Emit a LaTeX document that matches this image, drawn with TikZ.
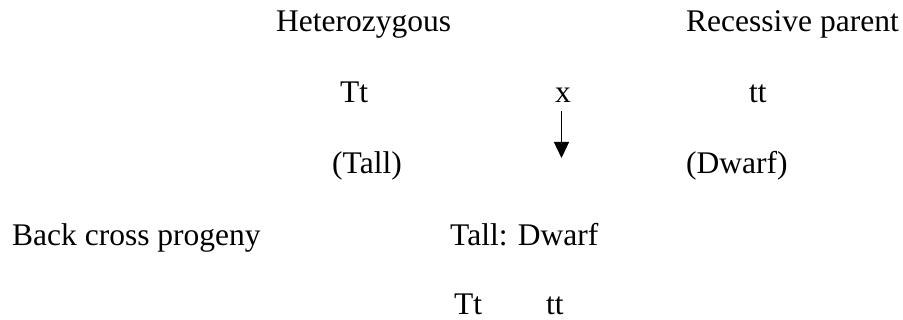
\documentclass[tikz,border=0pt]{standalone}
\usepackage{fontspec}
\setmainfont{Liberation Serif}
\usetikzlibrary{arrows.meta}
\begin{document}
\begin{tikzpicture}[x=1pt,y=-1pt,
  lbl/.style={anchor=base west,inner sep=0pt,font=\fontsize{31.5}{36}\selectfont},
  arr/.style={line width=1.3pt,-{Triangle[length=16pt,width=15pt]}}]
\useasboundingbox (0,0) rectangle (903,320);
\node[lbl] (het) at (276,32) {Heterozygous};
\node[lbl] (rec) at (686,32) {Recessive parent};
\node[lbl] (Tt1) at (340,103) {Tt};
\node[lbl] (x) at (555,103) {x};
\node[lbl] (tt1) at (749,103) {tt};
\coordinate (a1) at (561.5,111);
\coordinate (a2) at (561.5,158);
\draw[arr] (a1) -- (a2);
\node[lbl] (tall) at (332,174) {(Tall)};
\node[lbl] (dwarf) at (686,174) {(Dwarf)};
\node[lbl] (bcp) at (12,246) {Back cross progeny};
\node[lbl] (ratio) at (450,246) {Tall: Dwarf};
\node[lbl] (Tt2) at (454,314.5) {Tt};
\node[lbl] (tt2) at (546,314.5) {tt};
\end{tikzpicture}
\end{document}
